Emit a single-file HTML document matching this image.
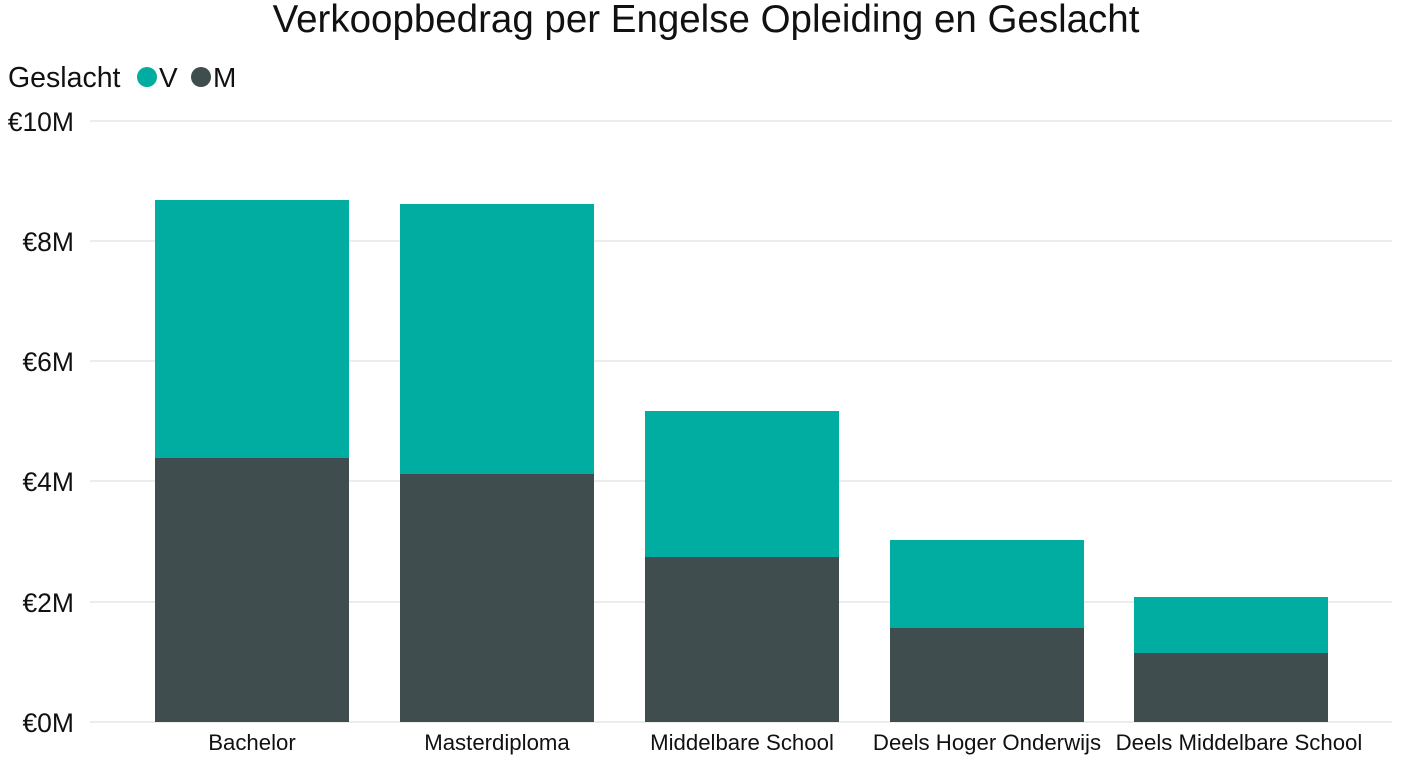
<!DOCTYPE html>
<html><head><meta charset="utf-8"><style>
body{margin:0;background:#fff;}
svg{display:block;}
</style></head><body>
<svg width="1408" height="768" xmlns="http://www.w3.org/2000/svg" font-family="Liberation Sans, sans-serif">
<text x="706" y="32" font-size="38.5" text-anchor="middle" fill="#111">Verkoopbedrag per Engelse Opleiding en Geslacht</text>
<text x="8" y="87" font-size="28.5" fill="#111">Geslacht</text>
<circle cx="147" cy="77" r="10" fill="#01ACA0"/>
<text x="159" y="87" font-size="28" fill="#111">V</text>
<circle cx="201" cy="77" r="10" fill="#3F4D4F"/>
<text x="213" y="87" font-size="28" fill="#111">M</text>
<g stroke="#e6e6e6" stroke-width="1.5">
<line x1="90" x2="1392" y1="121" y2="121"/>
<line x1="90" x2="1392" y1="241" y2="241"/>
<line x1="90" x2="1392" y1="361" y2="361"/>
<line x1="90" x2="1392" y1="481" y2="481"/>
<line x1="90" x2="1392" y1="602" y2="602"/>
<line x1="90" x2="1392" y1="722" y2="722"/>
</g>
<g font-size="26.5" fill="#111" text-anchor="end">
<text x="74" y="131">€10M</text>
<text x="74" y="251">€8M</text>
<text x="74" y="371">€6M</text>
<text x="74" y="491">€4M</text>
<text x="74" y="612">€2M</text>
<text x="74" y="732">€0M</text>
</g>
<g fill="#01ACA0">
<rect x="155" y="200" width="194" height="258"/>
<rect x="400" y="204" width="194" height="270"/>
<rect x="645" y="411" width="194" height="146"/>
<rect x="890" y="540" width="194" height="88"/>
<rect x="1134" y="597" width="194" height="56"/>
</g>
<g fill="#3F4D4F">
<rect x="155" y="458" width="194" height="264"/>
<rect x="400" y="474" width="194" height="248"/>
<rect x="645" y="557" width="194" height="165"/>
<rect x="890" y="628" width="194" height="94"/>
<rect x="1134" y="653" width="194" height="69"/>
</g>
<g font-size="22.2" fill="#111" text-anchor="middle">
<text x="252" y="750">Bachelor</text>
<text x="497" y="750">Masterdiploma</text>
<text x="742" y="750">Middelbare School</text>
<text x="987" y="750">Deels Hoger Onderwijs</text>
<text x="1239" y="750">Deels Middelbare School</text>
</g>
</svg>
</body></html>
